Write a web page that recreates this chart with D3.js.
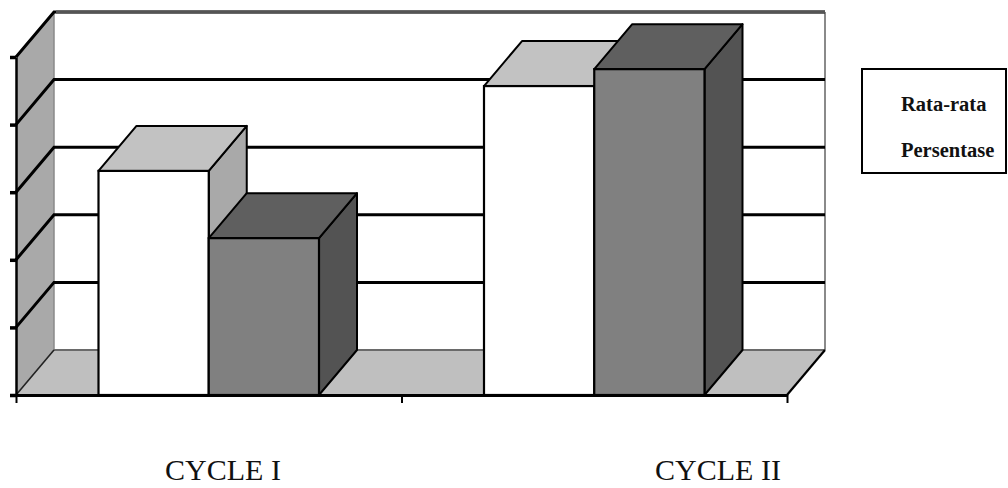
<!DOCTYPE html>
<html>
<head>
<meta charset="utf-8">
<script src="https://cdn.jsdelivr.net/npm/d3@7"></script>
<style>
  html, body { margin: 0; padding: 0; background: #ffffff; }
  svg { display: block; }
</style>
</head>
<body>
<svg id="chart" width="1008" height="488"></svg>
<script>
// Categories and the two series (percent scale 0–100)
const categories = ["CYCLE I", "CYCLE II"];
const seriesNames = ["Rata-rata", "Persentase"];
const rataRata = [66.3, 91.4];
const persentase = [46.4, 96.4];
const yTicks = [0, 20, 40, 60, 80, 100];
const legendLines = ["Rata-rata", "Persentase"];

const svg = d3.select("#chart");

// Plot frame: front plane and 3‑D depth offset
const front = { left: 16, right: 787, bottom: 395, top: 57 };
const depth = { dx: 38, dy: 45 };

const y = d3.scaleLinear().domain([0, 100]).range([front.bottom, front.top]);
const x = d3.scaleBand().domain(categories)
  .range([front.left, front.right])
  .paddingInner(165 / 385.5).paddingOuter(165 / 385.5 / 2);
const xs = d3.scaleBand().domain(seriesNames).range([0, x.bandwidth()]).padding(0);

const line = d3.line();
const poly = pts => line(pts) + "Z";

// Back wall
const bx0 = front.left + depth.dx, bx1 = front.right + depth.dx;
svg.append("rect")
  .attr("x", bx0).attr("y", y(100) - depth.dy)
  .attr("width", bx1 - bx0).attr("height", y(0) - y(100))
  .attr("fill", "#ffffff");

// Left side wall
svg.append("path")
  .attr("d", poly([[front.left, y(100)], [bx0, y(100) - depth.dy], [bx0, y(0) - depth.dy], [front.left, y(0)]]))
  .attr("fill", "#a9a9a9");

// Floor
svg.append("path")
  .attr("d", poly([[front.left, y(0)], [bx0, y(0) - depth.dy], [bx1, y(0) - depth.dy], [front.right, y(0)]]))
  .attr("fill", "#bfbfbf");

// Wall edges
svg.append("line")
  .attr("x1", bx0).attr("x2", bx0)
  .attr("y1", y(100) - depth.dy).attr("y2", y(0) - depth.dy)
  .attr("stroke", "#8a8a8a").attr("stroke-width", 1.5);
svg.append("line")
  .attr("x1", bx1).attr("x2", bx1)
  .attr("y1", y(100) - depth.dy).attr("y2", y(0) - depth.dy)
  .attr("stroke", "#8a8a8a").attr("stroke-width", 2);
svg.append("line")
  .attr("x1", bx0).attr("x2", bx1)
  .attr("y1", y(0) - depth.dy).attr("y2", y(0) - depth.dy)
  .attr("stroke", "#6a6a6a").attr("stroke-width", 2);
svg.append("line")
  .attr("x1", front.right).attr("y1", y(0))
  .attr("x2", bx1).attr("y2", y(0) - depth.dy)
  .attr("stroke", "#000").attr("stroke-width", 2.2);
svg.append("line")
  .attr("x1", front.left).attr("y1", y(0))
  .attr("x2", bx0).attr("y2", y(0) - depth.dy)
  .attr("stroke", "#222").attr("stroke-width", 1.6);

// Gridlines: diagonal across the side wall, then along the back wall
const gridVals = yTicks.filter(v => v > 0);
gridVals.forEach(v => {
  svg.append("path")
    .attr("d", line([[front.left, y(v)], [bx0, y(v) - depth.dy], [bx1, y(v) - depth.dy]]))
    .attr("fill", "none")
    .attr("stroke", "#000").attr("stroke-width", 3);
  if (v === 100) {
    svg.append("line")
      .attr("x1", bx0 + 2).attr("x2", bx1)
      .attr("y1", y(v) - depth.dy).attr("y2", y(v) - depth.dy)
      .attr("stroke", "#555").attr("stroke-width", 3);
  }
});

// 3‑D bars
const fills = {
  "Rata-rata": { front: "#ffffff", top: "#c2c2c2", side: "#a9a9a9" },
  "Persentase": { front: "#808080", top: "#5f5f5f", side: "#535353" }
};
const barData = [];
categories.forEach((c, i) => {
  barData.push({ cat: c, s: "Rata-rata", v: rataRata[i] });
  barData.push({ cat: c, s: "Persentase", v: persentase[i] });
});

const bars = svg.append("g").selectAll("g").data(barData).join("g");
bars.each(function (d) {
  const g = d3.select(this);
  const x0 = x(d.cat) + xs(d.s), x1 = x0 + xs.bandwidth();
  const yt = y(d.v), yb = y(0);
  const f = fills[d.s];
  g.append("path")
    .attr("d", poly([[x1, yt], [x1 + depth.dx, yt - depth.dy], [x1 + depth.dx, yb - depth.dy], [x1, yb]]))
    .attr("fill", f.side).attr("stroke", "#000").attr("stroke-width", 2).attr("stroke-linejoin", "round");
  g.append("path")
    .attr("d", poly([[x0, yt], [x0 + depth.dx, yt - depth.dy], [x1 + depth.dx, yt - depth.dy], [x1, yt]]))
    .attr("fill", f.top).attr("stroke", "#000").attr("stroke-width", 2).attr("stroke-linejoin", "round");
  g.append("rect")
    .attr("x", x0).attr("y", yt).attr("width", x1 - x0).attr("height", yb - yt)
    .attr("fill", f.front).attr("stroke", "#000").attr("stroke-width", 2.2);
});

// Value axis (no labels)
const yAxis = svg.append("g")
  .attr("transform", `translate(${front.left},0)`)
  .call(d3.axisLeft(y).tickValues(yTicks).tickSize(6).tickSizeOuter(0).tickFormat(""));
yAxis.select(".domain").attr("stroke", "#000").attr("stroke-width", 2.5);
yAxis.selectAll(".tick line").attr("stroke", "#000").attr("stroke-width", 3.5);

// Category axis with ticks at category boundaries
const xb = d3.scaleLinear().domain([0, categories.length]).range([front.left, front.right]);
const xAxis = svg.append("g")
  .attr("transform", `translate(0,${front.bottom})`)
  .call(d3.axisBottom(xb).tickValues(d3.range(categories.length + 1)).tickSize(8).tickSizeOuter(0).tickFormat(""));
xAxis.select(".domain").attr("stroke", "#000").attr("stroke-width", 3);
xAxis.selectAll(".tick line").attr("stroke", "#000").attr("stroke-width", 2);

// Category captions below the chart
const captionX = [223, 718];
svg.append("g").selectAll("text").data(categories).join("text")
  .attr("x", (d, i) => captionX[i]).attr("y", 480)
  .attr("text-anchor", "middle")
  .attr("font-family", "'Liberation Serif', 'Times New Roman', serif")
  .attr("font-size", 30)
  .attr("fill", "#111")
  .text(d => d);

// Legend box
const lg = svg.append("g");
lg.append("rect")
  .attr("x", 862).attr("y", 69).attr("width", 144).attr("height", 104)
  .attr("fill", "#fff").attr("stroke", "#000").attr("stroke-width", 2);
lg.selectAll("text").data(legendLines).join("text")
  .attr("x", 901).attr("y", (d, i) => 111 + i * 46)
  .attr("font-family", "'Liberation Serif', 'Times New Roman', serif")
  .attr("font-weight", "bold")
  .attr("font-size", 20.5)
  .attr("fill", "#111")
  .text(d => d);
</script>
</body>
</html>
